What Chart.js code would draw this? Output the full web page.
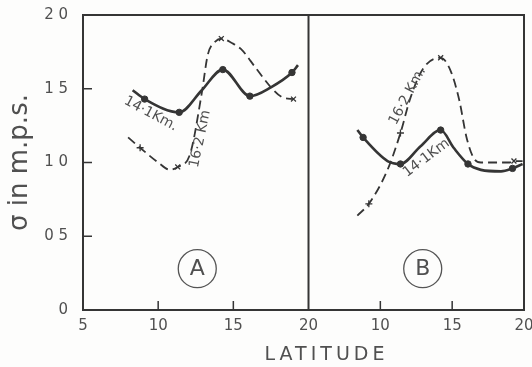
<!DOCTYPE html>
<html>
<head>
<meta charset="utf-8">
<script src="https://cdn.jsdelivr.net/npm/chart.js@4.4.1/dist/chart.umd.min.js"></script>
<style>
  html, body { margin: 0; padding: 0; background: #fdfdfc; }
  #wrap { position: relative; width: 532px; height: 367px; }
</style>
</head>
<body>
<div id="wrap"><canvas id="chart" width="532" height="367"></canvas></div>
<script>
// panel A (left)
const latA141 = [8.3, 9.1, 11.4, 12.9, 14.3, 16.1, 17.5, 18.9, 19.3];
const sigA141 = [1.49, 1.43, 1.34, 1.49, 1.63, 1.45, 1.51, 1.61, 1.66];
const dotsA141 = [0, 1, 1, 0, 1, 1, 0, 1, 0];

const latA162 = [8.0, 8.8, 10.0, 10.8, 11.3, 12.1, 12.9, 13.3, 13.8, 14.2, 14.9, 15.5, 16.5, 17.5, 18.3, 19.0];
const sigA162 = [1.17, 1.10, 1.00, 0.95, 0.97, 1.05, 1.47, 1.73, 1.82, 1.84, 1.81, 1.77, 1.64, 1.51, 1.44, 1.43];
const marksA162 = ["", "+", "", "", "x", "", "", "", "", "x", "", "", "", "", "", "x"];

// panel B (right)
const latB141 = [8.4, 8.8, 10.5, 11.4, 12.8, 14.2, 15.1, 16.1, 17.0, 18.4, 19.2, 19.9];
const sigB141 = [1.22, 1.17, 1.01, 0.99, 1.11, 1.22, 1.10, 0.99, 0.95, 0.94, 0.96, 0.99];
const dotsB141 = [0, 1, 0, 1, 0, 1, 0, 1, 0, 0, 1, 0];

const latB162 = [8.4, 9.2, 10.5, 11.4, 12.1, 13.0, 14.2, 14.9, 15.5, 16.0, 16.5, 17.0, 19.0, 19.3, 19.9];
const sigB162 = [0.64, 0.72, 0.95, 1.20, 1.44, 1.64, 1.71, 1.62, 1.42, 1.17, 1.03, 1.00, 1.00, 1.01, 1.01];
const marksB162 = ["", "+", "", "+", "", "", "x", "", "", "", "", "", "", "x", ""];

const yTicks = [0, 0.5, 1.0, 1.5, 2.0];
const xTicks = [5, 10, 15, 20];

const ink = "#353535";
const textInk = "#505050";

// curve labels, placed in data units of their panel
const curveLabels = [
  { axis: "xA", x: 9.5, y: 1.33, angle: 28, text: "14·1Km." },
  { axis: "xA", x: 12.8, y: 1.16, angle: -78, text: "16·2 Km" },
  { axis: "xB", x: 11.9, y: 1.45, angle: -62, text: "16·2 Km." },
  { axis: "xB", x: 13.2, y: 1.03, angle: -37, text: "14·1Km" },
];
const panelTags = [
  { axis: "xA", x: 12.6, y: 0.28, text: "A" },
  { axis: "xB", x: 12.95, y: 0.28, text: "B" },
];

function pts(xs, ys) {
  return xs.map((x, i) => ({ x: x, y: ys[i] }));
}

function solidSet(xs, ys, dots, axis) {
  return {
    data: pts(xs, ys),
    xAxisID: axis,
    borderColor: ink,
    backgroundColor: ink,
    borderWidth: 2.6,
    cubicInterpolationMode: "monotone",
    pointStyle: "circle",
    pointRadius: dots.map((d) => (d ? 3.2 : 0)),
    pointBorderWidth: 1,
  };
}

function dashedSet(xs, ys, marks, axis) {
  return {
    data: pts(xs, ys),
    xAxisID: axis,
    borderColor: ink,
    backgroundColor: ink,
    borderWidth: 1.8,
    borderDash: [9, 5],
    cubicInterpolationMode: "monotone",
    pointStyle: marks.map((m) => (m === "+" ? "cross" : "crossRot")),
    pointRadius: marks.map((m) => (m ? 3.5 : 0)),
    pointBorderWidth: 1.3,
  };
}

function noPad(s) {
  s.paddingTop = 0;
  s.paddingBottom = 0;
  s.paddingLeft = 0;
  s.paddingRight = 0;
}

// frame, divider, inward ticks, curve labels
const decor = {
  id: "decor",
  afterDraw(chart) {
    const ctx = chart.ctx;
    const a = chart.chartArea;
    const y = chart.scales.y;
    const xA = chart.scales.xA;
    const xB = chart.scales.xB;
    ctx.save();
    ctx.strokeStyle = ink;
    ctx.lineWidth = 2;
    ctx.beginPath();
    ctx.moveTo(a.left, a.top);
    ctx.lineTo(a.right, a.top);
    ctx.lineTo(a.right, a.bottom);
    const mid = xA.getPixelForValue(20);
    ctx.moveTo(mid, a.top);
    ctx.lineTo(mid, a.bottom);
    ctx.stroke();

    ctx.lineWidth = 1.5;
    ctx.beginPath();
    [0.5, 1.0, 1.5].forEach((v) => {
      const py = y.getPixelForValue(v);
      ctx.moveTo(a.left, py);
      ctx.lineTo(a.left + 9, py);
    });
    [xA, xB].forEach((s) => {
      [10, 15].forEach((v) => {
        const px = s.getPixelForValue(v);
        ctx.moveTo(px, a.bottom);
        ctx.lineTo(px, a.bottom - 9);
      });
    });
    ctx.stroke();

    ctx.fillStyle = textInk;
    ctx.textAlign = "center";
    ctx.textBaseline = "middle";
    ctx.font = "14px 'DejaVu Sans'";
    curveLabels.forEach((l) => {
      const s = chart.scales[l.axis];
      ctx.save();
      ctx.translate(s.getPixelForValue(l.x), y.getPixelForValue(l.y));
      ctx.rotate((l.angle * Math.PI) / 180);
      ctx.fillText(l.text, 0, 0);
      ctx.restore();
    });

    ctx.strokeStyle = "#555";
    ctx.lineWidth = 1.3;
    ctx.font = "22px 'DejaVu Sans'";
    panelTags.forEach((t) => {
      const px = chart.scales[t.axis].getPixelForValue(t.x);
      const py = y.getPixelForValue(t.y);
      ctx.beginPath();
      ctx.arc(px, py, 19, 0, Math.PI * 2);
      ctx.stroke();
      ctx.fillText(t.text, px, py + 1);
    });

    ctx.font = "19px 'DejaVu Sans'";
    ctx.letterSpacing = "4px";
    ctx.fillText("LATITUDE", xA.getPixelForValue(20) + 18, 355);
    ctx.restore();
  },
};

function xScale(weight, hideFirst) {
  return {
    type: "linear",
    position: "bottom",
    stack: "lat",
    stackWeight: weight,
    min: 5,
    max: 20,
    afterBuildTicks: (s) => {
      s.ticks = xTicks.map((v) => ({ value: v }));
    },
    afterFit: (s) => {
      s.height = 57;
      noPad(s);
    },
    grid: { display: false, drawTicks: false },
    border: { display: true, color: ink, width: 2 },
    ticks: {
      padding: 7,
      color: textInk,
      font: { family: "DejaVu Sans", size: 15 },
      callback: (v) => (hideFirst && v === 5 ? "" : String(v)),
    },
  };
}

new Chart(document.getElementById("chart"), {
  type: "line",
  data: {
    datasets: [
      solidSet(latA141, sigA141, dotsA141, "xA"),
      dashedSet(latA162, sigA162, marksA162, "xA"),
      solidSet(latB141, sigB141, dotsB141, "xB"),
      dashedSet(latB162, sigB162, marksB162, "xB"),
    ],
  },
  options: {
    responsive: false,
    animation: false,
    layout: { padding: { top: 15, right: 8, left: 0, bottom: 0 } },
    plugins: { legend: { display: false }, tooltip: { enabled: false } },
    scales: {
      xA: xScale(225, false),
      xB: xScale(215, true),
      y: {
        min: 0,
        max: 2,
        afterBuildTicks: (s) => {
          s.ticks = yTicks.map((v) => ({ value: v }));
        },
        afterFit: (s) => {
          s.width = 83;
          noPad(s);
        },
        grid: { display: false, drawTicks: false },
        border: { display: true, color: ink, width: 2 },
        ticks: {
          padding: 15,
          color: textInk,
          font: { family: "DejaVu Sans", size: 15 },
          callback: (v) => (v === 0 ? "0" : v.toFixed(1).replace(".", " ")),
        },
        title: {
          display: true,
          text: "σ in m.p.s.",
          color: textInk,
          padding: { top: 5, bottom: 0 },
          font: { family: "DejaVu Sans", size: 26 },
        },
      },
    },
  },
  plugins: [decor],
});
</script>
</body>
</html>
